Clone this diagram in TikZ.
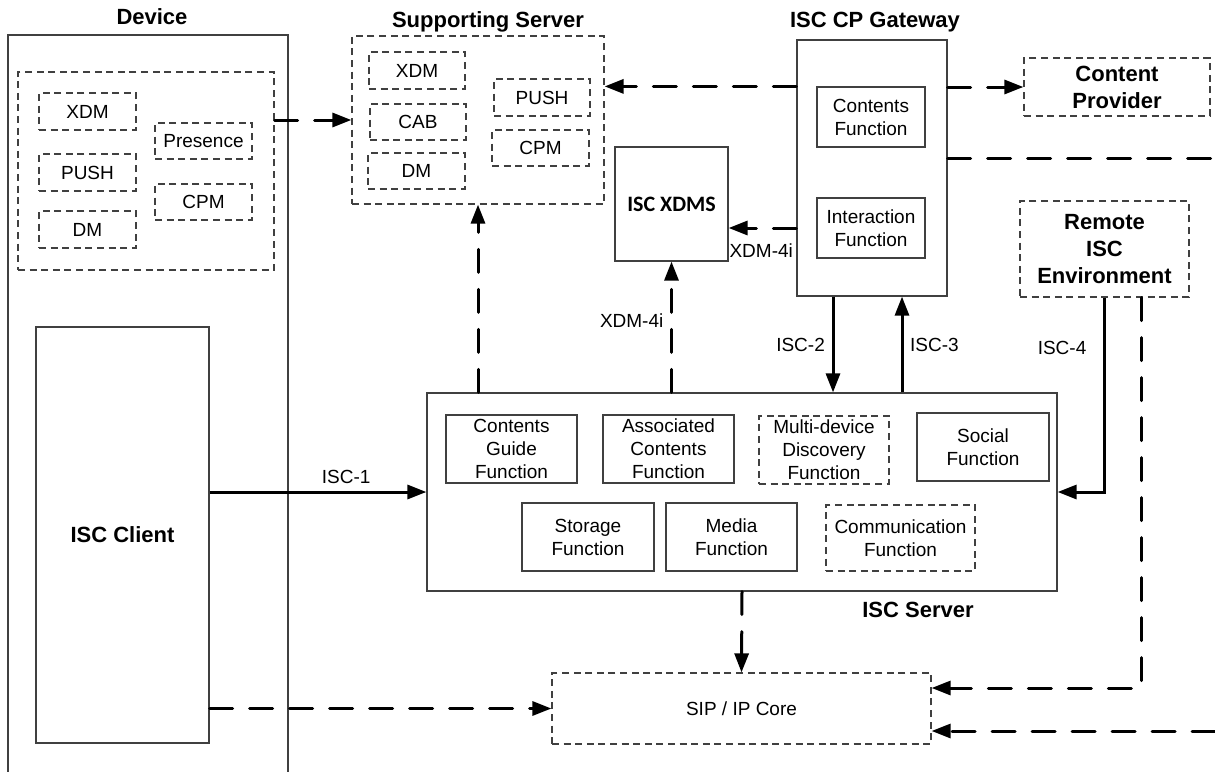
\documentclass[tikz,border=0pt]{standalone}
\usepackage{fontspec}
\setmainfont{Liberation Sans}
\newfontfamily\xdmsfont{Carlito}
\usetikzlibrary{arrows.meta}

\begin{document}
\begin{tikzpicture}[
    x=0.5pt, y=-0.5pt,
    font=\fontsize{9.5}{11.5}\selectfont,
    box/.style={draw=black!75, line width=0.6pt, inner sep=0pt, align=center},
    dbox/.style={box, dash pattern=on 3.5pt off 2.3pt},
    title/.style={font=\fontsize{11}{13.5}\selectfont\bfseries, align=center},
    dline/.style={line width=1.5pt, dash pattern=on 11.5pt off 8.5pt, line cap=round},
    conn/.style={line width=1.5pt, -{Triangle[length=9.5pt,width=7pt]}},
    dconn/.style={dline, -{Triangle[length=9.5pt,width=7pt]}},
]
    \useasboundingbox (0,0) rectangle (1215,771);
    \clip (0,0) rectangle (1215,771);
    % device
    \node[box, minimum width=140pt, minimum height=385pt] (device) at (148,420) {};
    \node[title] (devicetitle) at (152,17) {Device};
    \node[dbox, minimum width=128pt, minimum height=99pt] (devbox) at (146,171) {};
    \node[dbox, minimum width=48.5pt, minimum height=18.5pt] (dxdm) at (87.5,111.5) {XDM};
    \node[dbox, minimum width=48.5pt, minimum height=18.5pt] (dpush) at (87.5,172.5) {PUSH};
    \node[dbox, minimum width=48.5pt, minimum height=18.5pt] (ddm) at (87.5,229.5) {DM};
    \node[dbox, minimum width=48.5pt, minimum height=18pt] (dpres) at (203.5,141) {Presence};
    \node[dbox, minimum width=48.5pt, minimum height=18pt] (dcpm) at (203.5,202) {CPM};
    \node[box, title, minimum width=86.5pt, minimum height=208pt] (client) at (122.5,535) {ISC Client};
    % supporting server
    \node[dbox, minimum width=126pt, minimum height=84pt] (ss) at (478,120) {};
    \node[title] (sstitle) at (488,22) {Supporting Server};
    \node[dbox, minimum width=48pt, minimum height=18.5pt] (sxdm) at (417,70.5) {XDM};
    \node[dbox, minimum width=48pt, minimum height=18pt] (scab) at (418,122) {CAB};
    \node[dbox, minimum width=48.5pt, minimum height=18pt] (sdm) at (416.5,171) {DM};
    \node[dbox, minimum width=48pt, minimum height=18.5pt] (spush) at (542,97.5) {PUSH};
    \node[dbox, minimum width=48.5pt, minimum height=18pt] (scpm) at (540.5,148) {CPM};
    \node[box, minimum width=56.5pt, minimum height=57pt,
          font=\xdmsfont\fontsize{11}{13}\selectfont\bfseries] (xdms) at (671.5,204) {ISC XDMS};
    % gateway and outside
    \node[box, minimum width=75pt, minimum height=128pt] (gw) at (872,168) {};
    \node[title] (gwtitle) at (875,22) {ISC CP Gateway};
    \node[box, minimum width=54pt, minimum height=30pt] (gwcont) at (871,117) {Contents\\Function};
    \node[box, minimum width=54pt, minimum height=30pt] (gwinter) at (871,228) {Interaction\\Function};
    \node[dbox, title, minimum width=93pt, minimum height=29pt] (cp) at (1117,87) {Content\\Provider};
    \node[dbox, title, minimum width=84.5pt, minimum height=48pt] (remote) at (1104.5,249) {Remote\\ISC\\Environment};
    % isc server
    \node[box, minimum width=315pt, minimum height=99pt] (server) at (742,492) {};
    \node[title] (servertitle) at (918,610) {ISC Server};
    \node[box, minimum width=65.5pt, minimum height=34pt] (fguide) at (511.5,449) {Contents\\Guide\\Function};
    \node[box, minimum width=65.5pt, minimum height=34pt] (fassoc) at (668.5,449) {Associated\\Contents\\Function};
    \node[dbox, minimum width=65pt, minimum height=34pt] (fmulti) at (824,450) {Multi-device\\Discovery\\Function};
    \node[box, minimum width=66pt, minimum height=34pt] (fsocial) at (983,447) {Social\\Function};
    \node[box, minimum width=66pt, minimum height=34pt] (fstore) at (588,537) {Storage\\Function};
    \node[box, minimum width=65.5pt, minimum height=34pt] (fmedia) at (731.5,537) {Media\\Function};
    \node[dbox, minimum width=74.5pt, minimum height=33pt] (fcomm) at (900.5,538) {Communication\\Function};
    \node[dbox, minimum width=189.5pt, minimum height=35.5pt] (sip) at (741.5,708.5) {SIP / IP Core};
    \coordinate (edgea) at (1215,158);
    \coordinate (edgeb) at (1215,731);
    % connectors
    \draw[dconn] (devbox.east |- ss.west) -- (ss.west);
    \draw[dconn] (gw.west |- gwcont.north) -- (ss.east |- gwcont.north);
    \draw[dconn] (gw.east |- cp.west) -- (cp.west);
    \draw[dline] (gw.east |- edgea) -- (edgea);
    \draw[dconn] (gw.west |- gwinter) -- (xdms.east |- gwinter)
        node[pos=0, below left, inner sep=1pt, yshift=-6pt] {XDM-4i};
    \draw[dconn] (ss.south |- server.north) -- (ss.south);
    \draw[dconn] (xdms.south |- server.north) -- (xdms.south) node[pos=0.55, left] {XDM-4i};
    \draw[conn] ([xshift=-19.5pt]gw.south) -- ([xshift=-19.5pt]gw.south |- server.north)
        node[pos=0.5, left] {ISC-2};
    \draw[conn] ([xshift=15pt]gw.south |- server.north) -- ([xshift=15pt]gw.south)
        node[pos=0.5, right] {ISC-3};
    \draw[conn] (remote.south) |- (server.east) node[pos=0.13, left=5pt] {ISC-4};
    \draw[dconn] ([xshift=18.25pt]remote.south) |- ([yshift=10.25pt]sip.east);
    \draw[dconn] (edgeb) -- (sip.east |- edgeb);
    \draw[dconn] (server.south) -- (sip.north);
    \draw[conn] (client.east |- server.west) -- (server.west) node[pos=0.63, above] {ISC-1};
    \draw[dconn] (client.east |- sip.west) -- (sip.west);
\end{tikzpicture}
\end{document}
